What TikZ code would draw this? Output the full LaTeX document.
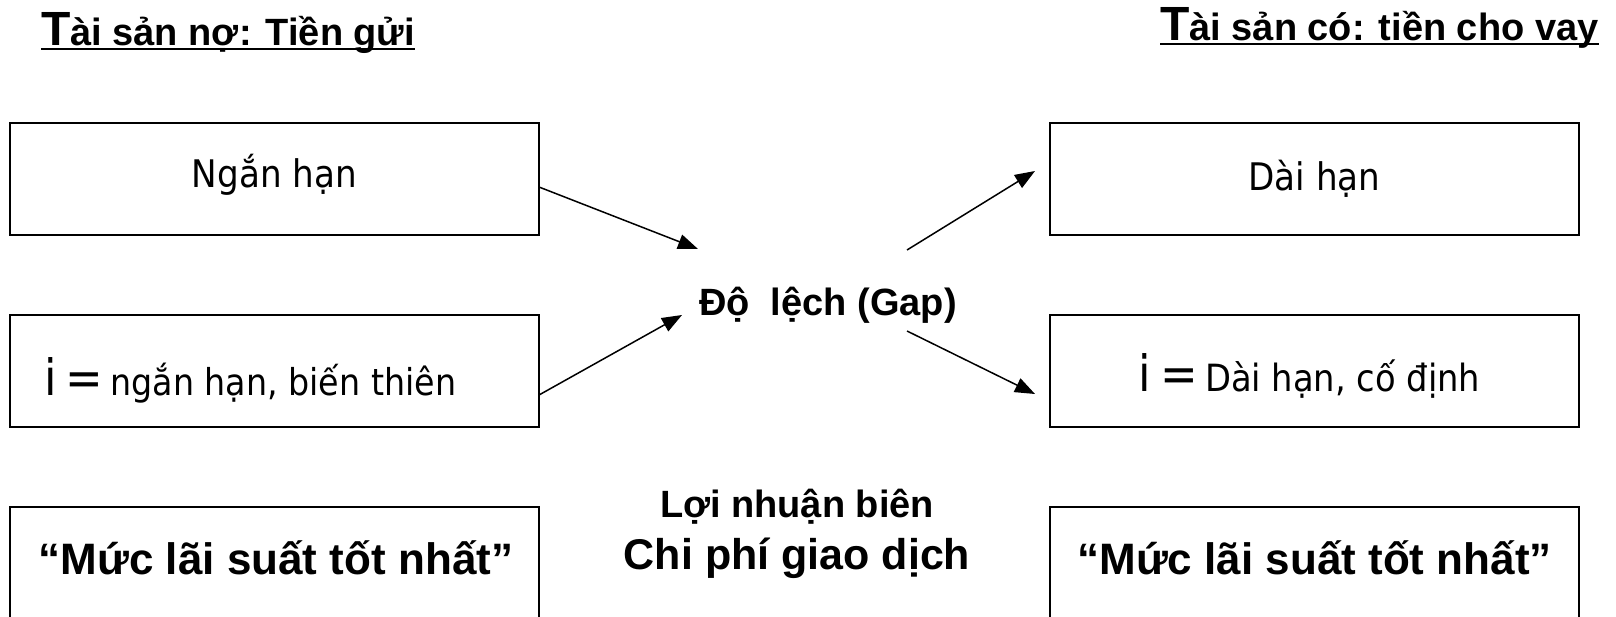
\documentclass[tikz,border=0pt]{standalone}
\usepackage{fontspec}
\setmainfont{Liberation Sans}
\newfontfamily\dejavu[FakeStretch=0.9]{DejaVu Sans}
\usetikzlibrary{arrows.meta}
\begin{document}
\begin{tikzpicture}[x=1pt,y=-1pt,
  box/.style={draw, line width=2.5pt, minimum width=529pt, inner sep=0pt},
  txt/.style={inner sep=0pt, anchor=base},
  arr/.style={line width=1.5pt, -{Triangle[length=20pt,width=15pt]}},
  uline/.style={line width=2.5pt}]
\clip (0,0) rectangle (1616,616);
% headings
\node[txt, anchor=base west] (h1) at (41,45) {\fontsize{38}{44}\selectfont\bfseries{\fontsize{48}{50}\selectfont T}ài sản nợ: Tiền gửi};
\node[txt, anchor=base west] (h2) at (1160,40) {\fontsize{38}{44}\selectfont\bfseries{\fontsize{48}{50}\selectfont T}ài sản có: tiền cho vay};
\draw[uline] ([yshift=-4pt]h1.base west) -- ([yshift=-4pt]h1.base east);
\draw[uline] ([yshift=-4pt]h2.base west) -- ([yshift=-4pt]h2.base east);
% boxes
\node[box, minimum height=112pt] (L1) at (274.5,179) {};
\node[box, minimum height=112pt] (L2) at (274.5,371) {};
\node[box, minimum height=200pt] (L3) at (274.5,607) {};
\node[box, minimum height=112pt] (R1) at (1314.5,179) {};
\node[box, minimum height=112pt] (R2) at (1314.5,371) {};
\node[box, minimum height=200pt] (R3) at (1314.5,607) {};
% box texts
\node[txt] (t1) at (274.5,187) {\dejavu\fontsize{38}{44}\selectfont Ngắn hạn};
\node[txt, anchor=base west] (t2) at (44,395) {\dejavu{\fontsize{50}{54}\selectfont i\hspace{9pt}=}\hspace{7pt}\fontsize{37}{44}\selectfont ngắn hạn, biến thiên};
\node[txt] (t3) at (276,574) {\fontsize{44}{50}\selectfont\bfseries “Mức lãi suất tốt nhất”};
\node[txt] (t4) at (1314.5,190) {\dejavu\fontsize{38}{44}\selectfont Dài hạn};
\node[txt] (t5) at (1309.5,391) {\dejavu{\fontsize{50}{54}\selectfont i\hspace{9pt}=}\hspace{7pt}\fontsize{37.5}{44}\selectfont Dài hạn, cố định};
\node[txt] (t6) at (1314.5,574) {\fontsize{44}{50}\selectfont\bfseries “Mức lãi suất tốt nhất”};
% middle
\node[txt] (gap) at (828,315) {\fontsize{38}{44}\selectfont\bfseries Độ\ \ lệch (Gap)};
\node[txt] (lnb) at (797,517) {\fontsize{38}{44}\selectfont\bfseries Lợi nhuận biên};
\node[txt] (cp) at (797,569) {\fontsize{43}{50}\selectfont\bfseries Chi phí giao dịch};
% arrow endpoints
\coordinate (a1s) at (539,187);
\coordinate (a1e) at (698,249);
\coordinate (a2s) at (539,395);
\coordinate (a2e) at (682,315);
\coordinate (a3s) at (907,250);
\coordinate (a3e) at (1035,171);
\coordinate (a4s) at (907,331);
\coordinate (a4e) at (1035,394);
\draw[arr] (a1s) -- (a1e);
\draw[arr] (a2s) -- (a2e);
\draw[arr] (a3s) -- (a3e);
\draw[arr] (a4s) -- (a4e);
\end{tikzpicture}
\end{document}
